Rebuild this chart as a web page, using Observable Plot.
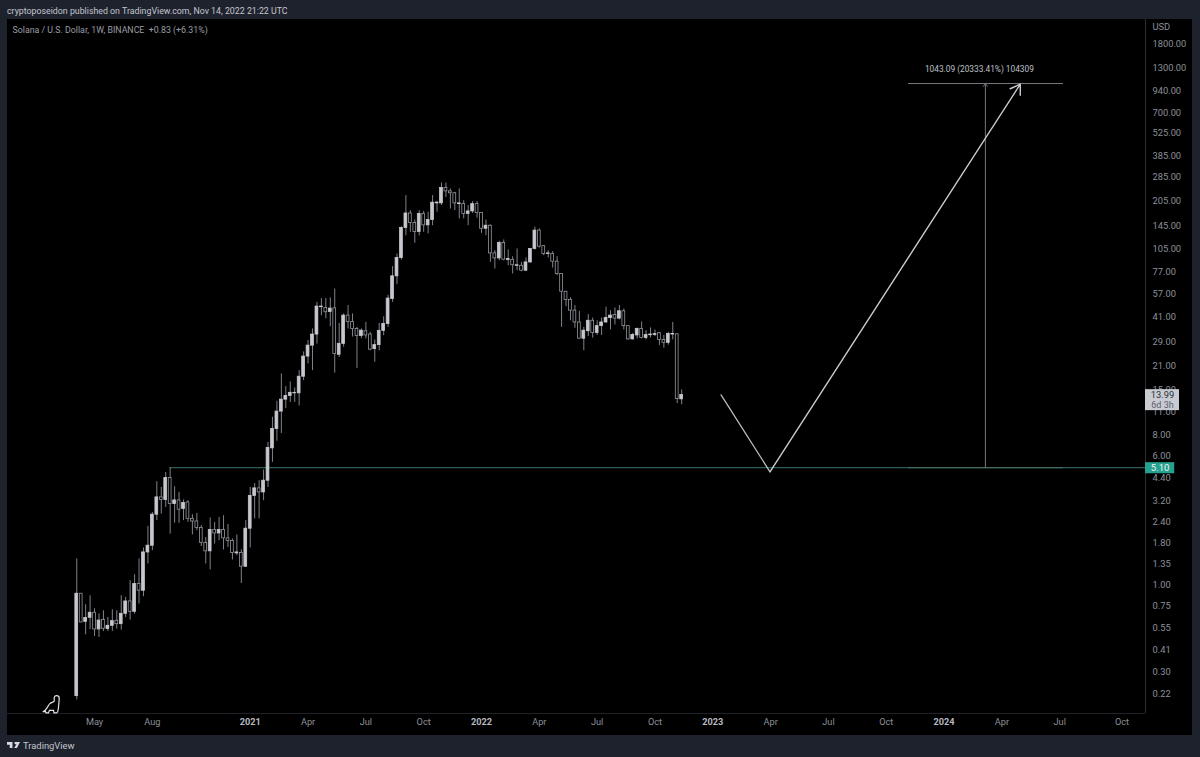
<!DOCTYPE html>
<html>
<head>
<meta charset="utf-8">
<script src="https://cdn.jsdelivr.net/npm/d3@7"></script>
<script src="https://cdn.jsdelivr.net/npm/@observablehq/plot@0.6"></script>
<style>
html,body{margin:0;padding:0;background:#1e222d;width:1200px;height:757px;overflow:hidden;font-family:Roboto,sans-serif;}
#head{height:19px;line-height:23px;padding-left:7px;font-size:8.8px;color:#c3c6cd;white-space:nowrap;}
#chart{margin-left:7px;width:1185px;height:716px;position:relative;}
#chart svg{display:block;}
#dino{position:absolute;left:33px;top:675px;}
#foot{height:20px;padding-left:7px;display:flex;align-items:center;gap:3px;font-size:9.4px;color:#c3c6cd;}
</style>
</head>
<body>
<div id="head">cryptoposeidon published on TradingView.com, Nov 14, 2022 21:22 UTC</div>
<div id="chart">
<svg id="dino" width="24" height="24" viewBox="0 0 24 24"><path d="M2.7 17.7C6 17 7.5 12.5 9.5 10C11 8.2 13.5 8.5 14.2 7V3.5Q14.8 1.5 17 1.7Q19.6 2.2 19.2 5C19 8 18.8 11 18.4 14C18.2 16.5 17.8 18.5 16.6 18.8H14L13.5 16.3H9.5L8.5 18.8H6L5.5 17.5Z" fill="none" stroke="#e2e4e8" stroke-width="1.2"/></svg>
</div>
<div id="foot"><svg width="13" height="8" viewBox="0 0 19 10"><path d="M0 0.5H8V9.5H4V4.5H0Z M11.5 0.5H19L14.5 9.5H10.5L14 3.5A1.6 1.6 0 1 1 11.5 0.5Z" fill="#d8dae0"/></svg><span>TradingView</span></div>
<script>
const high=[1.44,.89,.763,.865,.722,.673,.702,.64,.712,.702,.865,.845,1.065,1.157,1.44,1.676,2.26,2.745,4.2,3.88,4.78,5.1,3.92,3.62,3.26,3.23,2.66,2.71,2.29,1.94,2.54,2.39,2.56,2.62,2.32,1.9,2.01,1.636,2.45,3.88,4.1,4.26,4.94,7.25,10.25,12.8,18.7,15.7,16.75,15.4,19.6,25.4,29.7,34.9,50.5,53.2,53.2,53.7,60.7,37.7,43,48.3,43,35.7,34.9,38.2,33.3,30,37.7,41.3,55.7,82.8,98.7,144,221.6,180,158,180,178,176,221.6,204.7,264,264,243,232,243,206.7,193,204,204,174.5,158,147.5,103.3,117.6,119.9,104.3,95,105.8,87.8,93.3,106.7,143,139.7,110,103.3,101.9,95,74.8,58.5,53.7,48.3,44.6,35.7,42.6,40.6,39.1,40.6,47.2,45,46.7,48.3,46,36.3,32.8,35.4,38.5,34.1,35.4,34.4,33.3,31.9,33.3,38.2,32.6,15];
const open=[.215,.889,.602,.637,.683,.542,.619,.545,.57,.611,.583,.673,.799,.692,1.017,.927,1.576,1.73,2.66,3.38,3.26,4.42,3.08,3.24,2.88,3.15,2.51,2.42,2.21,1.8,1.6,2.15,2.05,2.15,1.915,1.85,1.555,1.564,1.293,2.19,3.45,3.83,3.62,4.26,6.67,8.72,11.1,13.1,13.8,14.3,14.3,18,23.8,27.7,32.3,47.2,46.7,44.2,46.4,24.4,28.4,42,38.5,34.9,31.7,33.8,32.3,26.4,27.9,34,37.4,52.9,72.4,93.3,141.5,173,151.6,134,172,146.7,158,199,199,246.5,235,229,197,197,172,178,197,174,140,146,99.5,92.8,115,90.8,90.8,83.8,83.8,78.3,87.8,105.8,136.4,110,98.7,98.7,88.7,74.8,58.5,52.2,45,38.2,30.5,33.8,39.1,33,36.3,38.2,40.6,42.4,40.3,44.6,36.3,30.2,31.9,34.9,30.8,32,32.1,32.9,30,28.8,32.3,32.4,13.16];
const close=[.889,.597,.635,.683,.542,.613,.547,.57,.608,.583,.673,.799,.692,1.017,.927,1.576,1.73,2.66,3.38,3.26,4.42,3.08,3.24,2.85,3.13,2.51,2.42,2.21,1.8,1.6,2.15,2.05,2.15,1.915,1.85,1.564,1.576,1.293,2.19,3.45,3.83,3.62,4.26,6.71,8.72,11.1,13.1,13.8,14.4,14.4,18,23.8,27.7,32.3,47.6,47.6,44,46.3,24.7,28.4,42,38.5,34.9,31.7,34.1,31.9,26.2,27.9,34,37.4,53.2,72.4,93.3,141.5,173,151.6,134,172,146.7,158,201,201,246.5,235,229,199,199,172,178,197,174,140,146,99.5,92.8,115,91.2,92,84.4,84.4,78.3,87.8,105.8,136.4,109.2,98.7,99.5,88.7,74.8,58.5,52.2,45,38.2,30.5,34.1,39.1,33,36.3,38.2,40.6,42,40.3,44.6,36.3,30.2,32.1,34.9,30.8,32.1,32.3,32.5,30,28.8,32.6,32.6,13.2,13.99];
const low=[.204,.595,.503,.54,.492,.485,.527,.527,.527,.545,.537,.64,.617,.67,.771,.853,1.342,1.614,2.45,2.68,2.94,2.03,2.36,2.36,2.45,2.39,2.01,2.13,1.71,1.342,1.235,1.77,1.854,1.63,1.69,1.42,1.506,1.026,1.281,1.676,2.51,2.51,3.23,3.88,5.49,7.35,8.2,11.6,12.6,12.6,12,17.05,21.5,19.6,28.3,41.9,40.2,36,18.9,23.5,27.1,34.9,31.2,20.2,30.5,30.4,25.8,22,25.8,31.8,35.7,50.5,64.6,90.8,127,133.2,114.4,127,133.2,130.3,146,176,193,216,184,180,160.4,160.4,146,173,162.5,131.4,127,87.8,80.2,89.9,89.9,83.8,74.8,78.3,77.2,77.5,86.6,104.3,107.2,96.3,93.3,81.2,73.1,35.7,47.6,39.1,35.2,30.4,25.8,31.4,30.7,31.9,31.9,37.7,34.4,36.9,39.6,34.4,29.9,29.9,30.4,30.4,30,30.8,31.4,27.7,26.7,27.9,30,12.4,12.2];

const priceTicks=[1800,1300,940,700,525,385,285,205,145,105,77,57,41,29,21,15,11,8,6,4.4,3.2,2.4,1.8,1.35,1,.75,.55,.41,.3,.22];
const monthDates=["2020-05-04","2020-08-03","2021-04-05","2021-07-05","2021-10-04","2022-04-04","2022-07-04","2022-10-03","2023-04-03","2023-07-03","2023-10-02","2024-04-01","2024-07-01","2024-10-07"].map(d=>new Date(d));
const yearDates=["2021-01-04","2022-01-03","2023-01-02","2024-01-01"].map(d=>new Date(d));
const forecastDates=["2023-01-15","2023-04-02","2024-04-30"].map(d=>new Date(d));
const forecastPrices=[14,4.82,1040];
const support=5.10, target=1048.19;
const rangeStart=new Date("2023-11-06"), rangeEnd=new Date("2024-07-07"), rangeMid=new Date("2024-03-06");

const DAY=864e5;
const firstBar=Date.UTC(2020,3,6);
const bars=high.map((h,i)=>{
  const t=firstBar+i*7*DAY;
  return {t:new Date(t),x1:new Date(t-2.2*DAY),x2:new Date(t+2.2*DAY),h,l:low[i],o:open[i],c:close[i],top:Math.max(open[i],close[i]),bot:Math.min(open[i],close[i]),up:close[i]>=open[i]};
});
const xStart=new Date("2019-12-19"), xEnd=new Date("2024-11-13");
const plus=(d,n)=>new Date(+d+n*DAY);
const font='Roboto,sans-serif';

const chart=Plot.plot({
  width:1185,height:716,marginLeft:0,marginRight:47,marginTop:0,marginBottom:22,
  style:{background:"#000",fontFamily:font},
  x:{type:"utc",domain:[xStart,xEnd]},
  y:{type:"log",domain:[.169,2546],axis:null},
  marks:[
    Plot.ruleY([.169],{stroke:"#1f2127"}),
    Plot.ruleX([xEnd],{y1:.169,y2:2546,stroke:"#2a2d34"}),
    Plot.axisX({ticks:monthDates,tickSize:0,tickPadding:5,fontSize:9.2,fill:"#8d9099",tickFormat:d3.utcFormat("%b"),label:null}),
    Plot.axisX({ticks:yearDates,tickSize:0,tickPadding:5,fontSize:9.2,fontWeight:700,fill:"#b6b9c0",tickFormat:d3.utcFormat("%Y"),label:null}),
    Plot.text(priceTicks,{x:xEnd,y:d=>d,dx:7,textAnchor:"start",fontSize:9.3,fill:"#8d9099",text:d=>d.toFixed(2)}),
    Plot.text(["USD"],{x:xEnd,y:2546,dx:7,dy:8,textAnchor:"start",fontSize:9.3,fill:"#8d9099"}),

    Plot.ruleY([support],{x1:bars[21].t,x2:xEnd,stroke:"#2c5d56",strokeWidth:1.2}),
    Plot.ruleY([support],{x1:rangeStart,x2:rangeEnd,stroke:"#4d6f68",strokeWidth:1}),
    Plot.ruleY([target],{x1:rangeStart,x2:rangeEnd,stroke:"#74777e",strokeWidth:1}),
    Plot.arrow([0],{x1:rangeMid,x2:rangeMid,y1:support,y2:target,stroke:"#74777e",strokeWidth:1,headLength:5,headAngle:70}),
    Plot.text(["1043.09 (20333.41%) 104309"],{x:rangeMid,y:target,dx:-6,dy:-14.5,fontSize:8.3,fill:"#bfc1c7"}),

    Plot.ruleX(bars,{x:"t",y1:"l",y2:"h",stroke:"#7f828a",strokeWidth:1}),
    Plot.rect(bars,{x1:"x1",x2:"x2",y1:"bot",y2:"top",fill:d=>d.up?"#c6c8ce":"#000",stroke:d=>d.up?"#c6c8ce":"#94979e",strokeWidth:.8}),

    Plot.line(forecastDates.slice(0,2).map((d,i)=>({d,p:forecastPrices[i]})),{x:"d",y:"p",stroke:"#b9bbc0",strokeWidth:1.3}),
    Plot.arrow([0],{x1:forecastDates[1],y1:forecastPrices[1],x2:forecastDates[2],y2:forecastPrices[2],stroke:"#c9cbd0",strokeWidth:1.4,headLength:12,headAngle:65}),

    Plot.rect([0],{x1:xEnd,x2:plus(xEnd,53.5),y1:11.25,y2:15.05,fill:"#c9cbd2"}),
    Plot.text(["13.99"],{x:plus(xEnd,26.7),y:13.99,dy:0,fontSize:9.3,fill:"#2a2e39"}),
    Plot.text(["6d 3h"],{x:plus(xEnd,26.7),y:13.99,dy:10,fontSize:9,fill:"#5b5e68"}),
    Plot.rect([0],{x1:xEnd,x2:plus(xEnd,46),y1:4.69,y2:5.47,fill:"#26a08f"}),
    Plot.text(["5.10"],{x:plus(xEnd,23),y:support,fontSize:9.5,fill:"#eef6f4"}),

    Plot.text(["Solana / U.S. Dollar, 1W, BINANCE  +0.83 (+6.31%)"],{frameAnchor:"top-left",dx:5,dy:7,textAnchor:"start",fontSize:8.8,fill:"#9a9da6"})
  ]
});
document.getElementById("chart").prepend(chart);
</script>
</body>
</html>
